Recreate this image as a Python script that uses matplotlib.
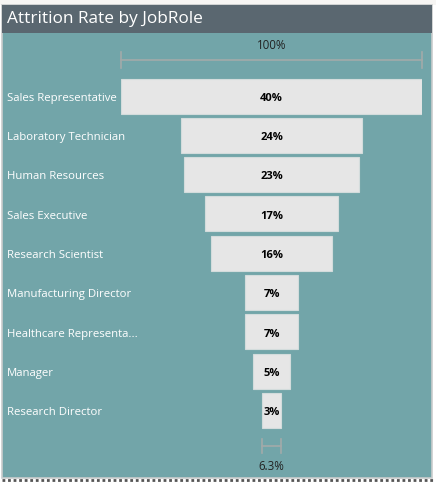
import numpy as np
import matplotlib
matplotlib.use("Agg")
from matplotlib import pyplot as plt
from matplotlib.patches import Rectangle
from matplotlib.lines import Line2D
from matplotlib.transforms import blended_transform_factory

# Data: attrition rate (%) by job role
roles = ["Sales Representative", "Laboratory Technician", "Human Resources",
         "Sales Executive", "Research Scientist", "Manufacturing Director",
         "Healthcare Representa...", "Manager", "Research Director"]
rates = np.array([39.76, 23.94, 23.08, 17.48, 16.10, 6.90, 6.87, 4.90, 2.50])
value_labels = ["40%", "24%", "23%", "17%", "16%", "7%", "7%", "5%", "3%"]
top_label = "100%"
bottom_label = "6.3%"

W, H = 436, 483
teal = "#72a5a9"
header = "#5a6770"
bar_fill = "#e6e6e6"

plt.rcParams["font.family"] = ["Open Sans", "DejaVu Sans"]

fig = plt.figure(figsize=(W / 100, H / 100), dpi=100, facecolor="white")

def px(x0, y0, w, h):
    # pixel box (top-left origin) -> figure fraction rect
    return (x0 / W, 1 - (y0 + h) / H, w / W, h / H)

# background strip, panel and header
fig.patches.append(Rectangle((0, 1 - 5 / H), 1, 5 / H, transform=fig.transFigure,
                             facecolor="#f6f5f3", edgecolor="none", zorder=0))
r = px(2, 5, 430, 473)
fig.patches.append(Rectangle(r[:2], r[2], r[3], transform=fig.transFigure,
                             facecolor=teal, edgecolor="#c9cccc", lw=1.2, zorder=0))
r = px(2, 5, 430, 28)
fig.patches.append(Rectangle(r[:2], r[2], r[3], transform=fig.transFigure,
                             facecolor=header, edgecolor="none", zorder=1))
fig.text(7 / W, 1 - 19 / H, "Attrition Rate by JobRole", color="white",
         fontsize=12.4, va="center", ha="left")
fig.lines.append(Line2D([2 / W, 433 / W], [1 - 480 / H, 1 - 480 / H],
                        transform=fig.transFigure, color="#555555", lw=2,
                        linestyle=(0, (1, 1))))

# funnel axes
pitch = 39.3
y0 = 96.0
top_idx = (33 - y0) / pitch
bot_idx = (478 - y0) / pitch
ax = fig.add_axes(px(121, 33, 301, 445))
ax.set_zorder(5)
ax.set_facecolor("none")
ax.set_xlim(-rates[0] / 2, rates[0] / 2)
ax.set_ylim(bot_idx, top_idx)
ax.axis("off")

ypos = np.arange(len(roles))
ax.barh(ypos, rates, left=-rates / 2, height=35 / pitch, color=bar_fill,
        edgecolor="#d3dcdc", linewidth=0.8, zorder=2)
for i, v in enumerate(value_labels):
    ax.text(0, i + 0.02, v, ha="center", va="center_baseline", fontsize=8,
            fontweight="bold", color="black", zorder=3)

trans = blended_transform_factory(fig.transFigure, ax.transData)
for i, name in enumerate(roles):
    ax.text(7 / W, i + 0.02, name, transform=trans, ha="left", va="center_baseline",
            fontsize=8.2, color="white", clip_on=False)

# brackets: top (100%) and bottom (last / first)
br_col = "#a3aaaa"
yb = (60 - y0) / pitch
ax.plot([-rates[0] / 2, rates[0] / 2], [yb, yb], color=br_col, lw=1.2, clip_on=False)
for xe in (-rates[0] / 2, rates[0] / 2):
    ax.plot([xe, xe], [yb - 8 / pitch, yb + 8 / pitch], color=br_col, lw=1.2, clip_on=False)
ax.text(0, (44 - y0) / pitch, top_label, ha="center", va="center_baseline",
        fontsize=8.3, color="#222222")

yb2 = (446 - y0) / pitch
ax.plot([-rates[-1] / 2, rates[-1] / 2], [yb2, yb2], color=br_col, lw=1.2)
for xe in (-rates[-1] / 2, rates[-1] / 2):
    ax.plot([xe, xe], [yb2 - 7 / pitch, yb2 + 7 / pitch], color=br_col, lw=1.2)
ax.text(0, (465 - y0) / pitch, bottom_label, ha="center", va="center_baseline",
        fontsize=8.3, color="#222222")

fig.savefig("out.png", dpi=100, facecolor=fig.get_facecolor())
